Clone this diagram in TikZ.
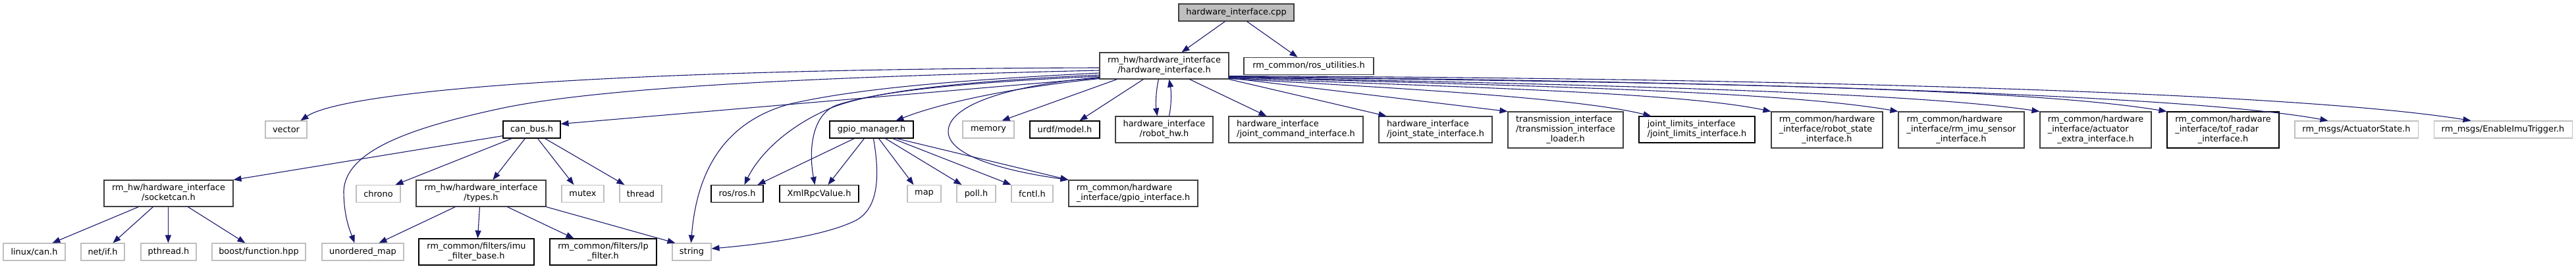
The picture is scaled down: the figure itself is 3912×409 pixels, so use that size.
\documentclass[tikz,border=0pt]{standalone}
\usepackage{fontspec}
\setmainfont{DejaVu Sans}
\usetikzlibrary{arrows.meta}
\definecolor{edgec}{HTML}{191970}
\definecolor{lightb}{HTML}{BFBFBF}
\definecolor{darkb}{HTML}{404040}
\newcommand\dgfont{\fontsize{12.9}{14.7}\selectfont}
\newcommand\LL[1]{\multicolumn{1}{@{}l@{}}{#1}}
\newcommand\TT[1]{\begin{tabular}{@{}c@{}}#1\end{tabular}}
\begin{document}
\begin{tikzpicture}[x=1pt,y=-1pt,
 nbox/.style={rectangle, draw=darkb, fill=white, line width=1.1pt, inner sep=0pt, font=\dgfont, text=black},
 kbox/.style={nbox, draw=black},
 xbox/.style={nbox, draw=lightb},
 wh/.style 2 args={minimum width=#1, minimum height=#2},
 dep/.style={draw=edgec, line width=1.1pt, -{Triangle[length=12pt,width=9pt]}},
]
\useasboundingbox (0,0) rectangle (3912,409);
% row 0/1
\node[nbox, fill=lightb, wh={175}{26}] (cpp) at (1877.5,19) {hardware\_interface.cpp};
\node[nbox, wh={196}{40}] (main) at (1768,100) {\TT{\LL{rm\_hw/hardware\_interface}\\/hardware\_interface.h}};
\node[nbox, wh={197}{26}] (rosutil) at (1987.5,100.5) {rm\_common/ros\_utilities.h};
% row 2
\node[xbox, wh={63}{26}] (vector) at (434.5,197) {vector};
\node[kbox, wh={87}{26}] (canbus) at (807.5,197) {can\_bus.h};
\node[kbox, wh={127}{26}] (gpiomgr) at (1323.5,197) {gpio\_manager.h};
\node[xbox, wh={78}{26}] (memory) at (1501,197) {memory};
\node[kbox, wh={106}{26}] (urdf) at (1617,197) {urdf/model.h};
\node[nbox, wh={148}{40}] (robothw) at (1768,197) {\TT{\LL{hardware\_interface}\\/robot\_hw.h}};
\node[nbox, wh={204}{40}] (jcmd) at (1968,197) {\TT{\LL{hardware\_interface}\\/joint\_command\_interface.h}};
\node[nbox, wh={172}{40}] (jstate) at (2180,197) {\TT{\LL{hardware\_interface}\\/joint\_state\_interface.h}};
\node[nbox, wh={175}{55}] (trans) at (2377.5,197.5) {\TT{\LL{transmission\_interface}\\\LL{/transmission\_interface}\\\_loader.h}};
\node[kbox, wh={176}{40}] (jlim) at (2577,197) {\TT{\LL{joint\_limits\_interface}\\/joint\_limits\_interface.h}};
\node[nbox, wh={169}{55}] (rstate) at (2774.5,197.5) {\TT{\LL{rm\_common/hardware}\\\LL{\_interface/robot\_state}\\\_interface.h}};
\node[nbox, wh={191}{55}] (imu) at (2978.5,197.5) {\TT{\LL{rm\_common/hardware}\\\LL{\_interface/rm\_imu\_sensor}\\\_interface.h}};
\node[nbox, wh={169}{55}] (actx) at (3182.5,197.5) {\TT{\LL{rm\_common/hardware}\\\LL{\_interface/actuator}\\\_extra\_interface.h}};
\node[kbox, wh={170}{55}] (tof) at (3376,197.5) {\TT{\LL{rm\_common/hardware}\\\LL{\_interface/tof\_radar}\\\_interface.h}};
\node[xbox, wh={187}{26}] (actstate) at (3578.5,197) {rm\_msgs/ActuatorState.h};
\node[xbox, wh={210}{26}] (enimu) at (3801,197) {rm\_msgs/EnableImuTrigger.h};
% row 3
\node[nbox, wh={196}{40}] (socket) at (256,294) {\TT{\LL{rm\_hw/hardware\_interface}\\/socketcan.h}};
\node[xbox, wh={67}{26}] (chrono) at (574.5,294.5) {chrono};
\node[nbox, wh={197}{40}] (types) at (730.5,294) {\TT{\LL{rm\_hw/hardware\_interface}\\/types.h}};
\node[xbox, wh={64}{26}] (mutex) at (885,294.5) {mutex};
\node[xbox, wh={64}{26}] (thread) at (973,294.5) {thread};
\node[kbox, wh={79}{26}] (ros) at (1119.5,294.5) {ros/ros.h};
\node[kbox, wh={120}{26}] (xml) at (1244,294.5) {XmlRpcValue.h};
\node[xbox, wh={51}{26}] (map) at (1403.5,294.5) {map};
\node[xbox, wh={59}{26}] (poll) at (1482.5,294.5) {poll.h};
\node[xbox, wh={63}{26}] (fcntl) at (1567.5,294.5) {fcntl.h};
\node[nbox, wh={196}{40}] (gpioif) at (1721,294) {\TT{\LL{rm\_common/hardware}\\\_interface/gpio\_interface.h}};
% row 4
\node[xbox, wh={94}{26}] (linuxcan) at (52,383) {linux/can.h};
\node[xbox, wh={66}{26}] (netif) at (156,383) {net/if.h};
\node[xbox, wh={84}{26}] (pthread) at (256,383) {pthread.h};
\node[xbox, wh={142}{26}] (boost) at (393,383) {boost/function.hpp};
\node[xbox, wh={124}{26}] (umap) at (551,383) {unordered\_map};
\node[kbox, wh={175}{40}] (imuf) at (723.5,383) {\TT{\LL{rm\_common/filters/imu}\\\_filter\_base.h}};
\node[kbox, wh={162}{40}] (lpf) at (916,383) {\TT{\LL{rm\_common/filters/lp}\\\_filter.h}};
\node[xbox, wh={59}{26}] (string) at (1050.5,383) {string};

% cpp edges
\draw[dep] ([xshift=71pt]cpp.south west) -- ([xshift=125pt]main.north west);
\draw[dep] ([xshift=104pt]cpp.south west) -- ([xshift=82pt]rosutil.north west);
% main, left side
\draw[dep] ([yshift=-3pt]main.west) .. controls (900,105) and (520,140) .. ([xshift=54pt]vector.north west);
\draw[dep] ([yshift=-7pt]main.west) .. controls (1200,118) and (900,135) .. (760,165) .. controls (620,195) and (525,230) .. (522,290) .. controls (522,330) and (532,352) .. ([xshift=50pt]umap.north west);
\draw[dep] ([yshift=-11pt]main.west) .. controls (1450,122) and (1300,135) .. (1200,158) .. controls (1100,185) and (1058,260) .. ([xshift=29pt]string.north west);
\draw[dep] ([yshift=-14pt]main.west) .. controls (1450,124) and (1320,140) .. (1260,165) .. controls (1190,195) and (1150,240) .. ([xshift=51pt]ros.north west);
\draw[dep] ([yshift=-16pt]main.west) .. controls (1450,126) and (1330,140) .. (1270,160) .. controls (1232,175) and (1228,230) .. ([xshift=54pt]xml.north west);
\draw[dep] ([yshift=2pt]main.south west) -- ([yshift=-5pt]canbus.north east);
\draw[dep] ([yshift=1pt]main.south west) .. controls (1520,135) and (1420,160) .. ([xshift=101pt]gpiomgr.north west);
\draw[dep] ([yshift=3pt]main.south west) .. controls (1530,130) and (1440,160) .. (1440,200) .. controls (1440,240) and (1540,262) .. (gpioif.north west);
% main, bottom
\draw[dep] ([xshift=27pt]main.south west) -- ([xshift=60pt]memory.north west);
\draw[dep] ([xshift=67pt]main.south west) -- ([xshift=76pt]urdf.north west);
\draw[dep] ([xshift=90pt]main.south west) .. controls (1755,140) and (1755,160) .. ([xshift=64pt]robothw.north west);
\draw[dep] ([xshift=82pt]robothw.north west) .. controls (1779,160) and (1779,140) .. ([xshift=106pt]main.south west);
\draw[dep] ([xshift=137pt]main.south west) -- ([xshift=58pt]jcmd.north west);
% main, right fan
\draw[dep] (main.south east) -- ([xshift=12pt]jstate.north west);
\draw[dep] ([yshift=2pt]main.south east) -- (trans.north west);
\draw[dep] ([yshift=1pt]main.south east) .. controls (2150,135) and (2400,150) .. ([xshift=19pt]jlim.north west);
\draw[dep] ([yshift=2pt]main.south east) .. controls (2200,132) and (2550,140) .. (rstate.north west);
\draw[dep] ([yshift=3pt]main.south east) .. controls (2300,130) and (2700,138) .. (imu.north west);
\draw[dep] ([yshift=3pt]main.south east) .. controls (2400,128) and (2900,140) .. (actx.north west);
\draw[dep] ([yshift=4pt]main.south east) .. controls (2450,125) and (3050,130) .. (tof.north west);
\draw[dep] ([yshift=4pt]main.south east) .. controls (2500,122) and (3300,140) .. ([xshift=51pt]actstate.north west);
\draw[dep] ([yshift=5pt]main.south east) .. controls (2550,118) and (3450,135) .. ([xshift=57pt]enimu.north west);
% gpio_manager
\draw[dep] ([xshift=38pt]gpiomgr.south west) -- ([xshift=71pt]ros.north west);
\draw[dep] ([xshift=53pt]gpiomgr.south west) -- ([xshift=74pt]xml.north west);
\draw[dep] ([xshift=67pt]gpiomgr.south west) .. controls (1335,260) and (1337,315) .. (1300,335) .. controls (1250,360) and (1150,372) .. ([yshift=5pt]string.east);
\draw[dep] ([xshift=75pt]gpiomgr.south west) -- ([xshift=10pt]map.north west);
\draw[dep] ([xshift=85pt]gpiomgr.south west) -- ([xshift=8pt]poll.north west);
\draw[dep] ([xshift=96pt]gpiomgr.south west) -- (fcntl.north west);
\draw[dep] ([xshift=102pt]gpiomgr.south west) -- (gpioif.north west);
% can_bus
\draw[dep] ([yshift=4pt]canbus.south west) -- (socket.north east);
\draw[dep] ([xshift=14pt]canbus.south west) -- ([xshift=60pt]chrono.north west);
\draw[dep] ([xshift=34pt]canbus.south west) -- ([xshift=117pt]types.north west);
\draw[dep] ([xshift=53pt]canbus.south west) -- ([xshift=19pt]mutex.north west);
\draw[dep] ([xshift=64pt]canbus.south west) -- ([xshift=8pt]thread.north west);
% socketcan
\draw[dep] ([xshift=53pt]socket.south west) -- ([xshift=75pt]linuxcan.north west);
\draw[dep] ([xshift=75pt]socket.south west) -- ([xshift=49pt]netif.north west);
\draw[dep] ([xshift=98pt]socket.south west) -- ([xshift=42pt]pthread.north west);
\draw[dep] ([xshift=128pt]socket.south west) -- ([xshift=51pt]boost.north west);
% types
\draw[dep] ([xshift=60pt]types.south west) -- ([xshift=87pt]umap.north west);
\draw[dep] ([xshift=97pt]types.south west) -- ([xshift=90pt]imuf.north west);
\draw[dep] ([xshift=139pt]types.south west) -- ([xshift=37pt]lpf.north west);
\draw[dep] (types.south east) -- ([xshift=5pt]string.north west);
\end{tikzpicture}
\end{document}
